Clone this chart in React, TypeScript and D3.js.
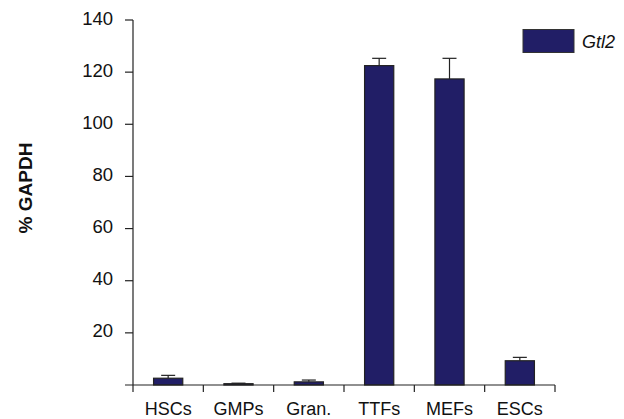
import React from "react";
import * as d3 from "d3";

const categories = ["HSCs", "GMPs", "Gran.", "TTFs", "MEFs", "ESCs"];
const values = [2.6, 0.5, 1.2, 122.5, 117.4, 9.3];
const errors = [1.1, 0.2, 0.7, 2.8, 7.9, 1.3];
const yTicks = [20, 40, 60, 80, 100, 120, 140];
const seriesName = "Gtl2";
const yTitle = "% GAPDH";

const W = 624;
const H = 419;
const left = 133;
const right = 555;
const top = 20;
const bottom = 385;

export default function App() {
  const x = d3.scaleBand<string>().domain(categories).range([left, right]).paddingInner(0.585).paddingOuter(0.2925);
  const band = d3.scaleBand<string>().domain(categories).range([left, right]);
  const y = d3.scaleLinear().domain([0, 140]).range([bottom, top]);
  const fill = "#211e66";
  const stroke = "#222";
  const font = "Liberation Sans, Arial, sans-serif";
  const bw = x.bandwidth();
  return (
    <svg width={W} height={H} style={{ position: "absolute", left: 0, top: 0 }} fontFamily={font}>
      <rect x={0} y={0} width={W} height={H} fill="#fff" />
      {categories.map((c, i) => {
        const cx = (x(c) as number) + bw / 2;
        return (
          <g key={c}>
            <line x1={cx} x2={cx} y1={y(values[i] + errors[i])} y2={y(values[i])} stroke={stroke} strokeWidth={1.2} />
            <line x1={cx - 7} x2={cx + 7} y1={y(values[i] + errors[i])} y2={y(values[i] + errors[i])} stroke={stroke} strokeWidth={1.2} />
            <rect x={x(c)} y={y(values[i])} width={bw} height={bottom - y(values[i])} fill={fill} stroke={stroke} strokeWidth={1.2} />
          </g>
        );
      })}
      <line x1={left} x2={left} y1={top} y2={bottom} stroke="#222" strokeWidth={1.2} />
      <line x1={left - 8} x2={right} y1={bottom} y2={bottom} stroke="#222" strokeWidth={1.2} />
      {yTicks.map((t) => (
        <g key={t}>
          <line x1={left - 8} x2={left} y1={y(t)} y2={y(t)} stroke="#222" strokeWidth={1.2} />
          <text x={113} y={y(t) + 4.5} textAnchor="end" fontSize={18.5} fill="#111">{t}</text>
        </g>
      ))}
      {categories.map((c, i) => (
        <g key={c}>
          <line x1={band(c)} x2={band(c)} y1={bottom} y2={bottom + 7} stroke="#222" strokeWidth={1.2} />
          <text x={(band(c) as number) + band.bandwidth() / 2} y={415} textAnchor="middle" fontSize={18} fill="#111">{c}</text>
        </g>
      ))}
      <line x1={right} x2={right} y1={bottom} y2={bottom + 7} stroke="#222" strokeWidth={1.2} />
      <text transform={`translate(31.5,188) rotate(-90)`} textAnchor="middle" fontSize={19} fontWeight="bold" fill="#111">{yTitle}</text>
      <rect x={523} y={29.5} width={51} height={23} fill={fill} stroke="#333" strokeWidth={1} />
      <text x={582} y={47.5} fontSize={18} fontStyle="italic" fill="#111">{seriesName}</text>
    </svg>
  );
}
